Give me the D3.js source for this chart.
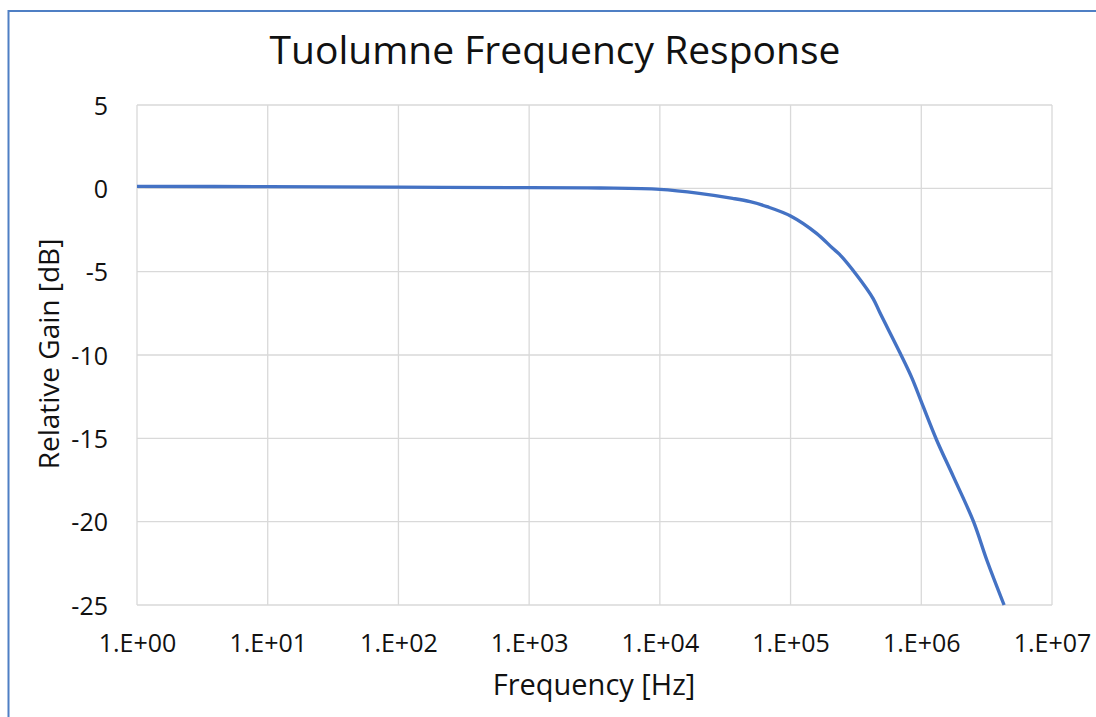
<!DOCTYPE html>
<html>
<head>
<meta charset="utf-8">
<script src="https://cdn.jsdelivr.net/npm/d3@7"></script>
<style>
  html, body { margin: 0; padding: 0; background: #fff; }
  svg { display: block; }
  text { font-family: "Open Sans", "Noto Sans", sans-serif; fill: #111; }
</style>
</head>
<body>
<svg id="chart" width="1096" height="717"></svg>
<script>
// ---- data ----
const frequencies = [1, 10, 100, 1000, 3500, 10000, 20000, 36000, 49000, 66000, 100000,
  158000, 210000, 236000, 320000, 427000, 485000, 690000, 850000, 1000000, 1310000,
  1760000, 2510000, 3170000, 4300000];
const gains = [0.12, 0.1, 0.07, 0.04, 0.02, -0.06, -0.3, -0.6, -0.8, -1.1, -1.66,
  -2.7, -3.6, -3.95, -5.2, -6.6, -7.5, -9.9, -11.4, -12.8, -15.1,
  -17.3, -20.0, -22.3, -25.0];
const xTicks = [1, 10, 100, 1000, 10000, 100000, 1000000, 10000000];
const xTickLabels = ["1.E+00", "1.E+01", "1.E+02", "1.E+03", "1.E+04", "1.E+05", "1.E+06", "1.E+07"];
const yTicks = [5, 0, -5, -10, -15, -20, -25];
const yTickLabels = ["5", "0", "-5", "-10", "-15", "-20", "-25"];

const title = "Tuolumne Frequency Response";
const xTitle = "Frequency [Hz]";
const yTitle = "Relative Gain [dB]";

// ---- layout ----
const svg = d3.select("#chart");
const L = 137, R = 1052, T = 105, B = 605;

// outer frame (only left and top edges visible)
svg.append("rect")
  .attr("x", 8.5).attr("y", 11)
  .attr("width", 1200).attr("height", 800)
  .attr("fill", "none").attr("stroke", "#4f7fc4").attr("stroke-width", 2);

const x = d3.scaleLog().domain([1, 1e7]).range([L, R]);
const y = d3.scaleLinear().domain([-25, 5]).range([B, T]);

// gridlines
const grid = svg.append("g");
grid.selectAll(".vg").data(xTicks).enter().append("line")
  .attr("x1", d => x(d)).attr("x2", d => x(d))
  .attr("y1", T).attr("y2", B)
  .attr("stroke", "#d9d9d9").attr("stroke-width", 1.3);
grid.selectAll(".hg").data(yTicks).enter().append("line")
  .attr("x1", L).attr("x2", R)
  .attr("y1", d => y(d)).attr("y2", d => y(d))
  .attr("stroke", "#d9d9d9").attr("stroke-width", 1.3);

// axes via d3 axis generators (labels only)
const xAxis = d3.axisBottom(x).tickValues(xTicks)
  .tickFormat((d, i) => xTickLabels[i]).tickSize(0).tickPadding(0);
const gx = svg.append("g").attr("transform", `translate(0,${B})`).call(xAxis);
gx.select(".domain").remove();
gx.selectAll("text").attr("y", 47).attr("dy", 0)
  .style("font-size", "25px").style("font-family", "'Open Sans', sans-serif").attr("fill", "#111");

const yAxis = d3.axisLeft(y).tickValues(yTicks)
  .tickFormat((d, i) => yTickLabels[i]).tickSize(0).tickPadding(0);
const gy = svg.append("g").attr("transform", `translate(${L},0)`).call(yAxis);
gy.select(".domain").remove();
gy.selectAll("text").attr("x", -29).attr("dy", "0.36em")
  .style("font-size", "25px").style("font-family", "'Open Sans', sans-serif").attr("fill", "#111");

// line
const pts = frequencies.map((f, i) => [f, gains[i]]);
const line = d3.line().x(d => x(d[0])).y(d => y(d[1])).curve(d3.curveCatmullRom.alpha(0.5));
svg.append("path").datum(pts)
  .attr("d", line)
  .attr("fill", "none").attr("stroke", "#4472c4").attr("stroke-width", 3.4)
  .attr("stroke-linejoin", "round");

// titles
svg.append("text").attr("x", 555).attr("y", 63.5)
  .attr("text-anchor", "middle").style("font-size", "39px").text(title);
svg.append("text").attr("x", 594).attr("y", 695)
  .attr("text-anchor", "middle").style("font-size", "29px").text(xTitle);
svg.append("text").attr("transform", "translate(59,354) rotate(-90)")
  .attr("text-anchor", "middle").style("font-size", "28px").text(yTitle);
</script>
</body>
</html>
